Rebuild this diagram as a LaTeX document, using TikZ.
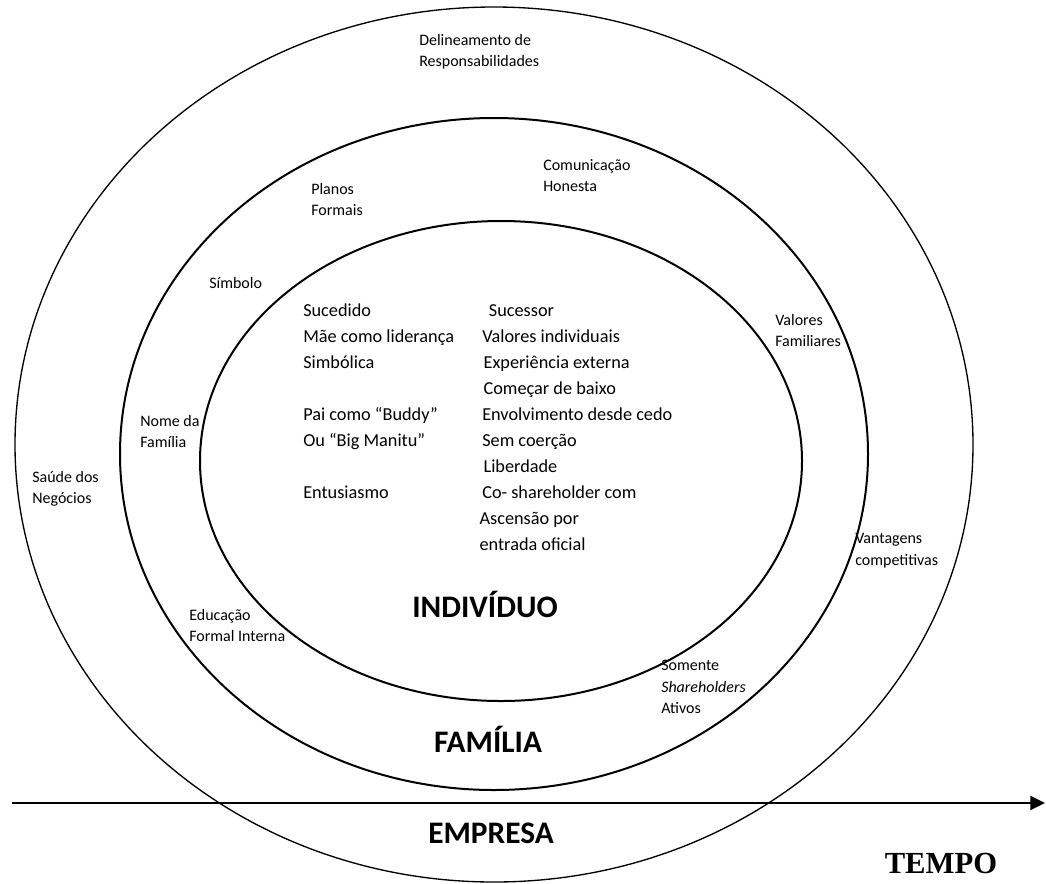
\documentclass[tikz,border=0pt]{standalone}
\usepackage{fontspec}
\setmainfont{Carlito}
\newfontfamily\tempofont{Liberation Serif}
\usetikzlibrary{arrows.meta}
\tikzset{
  ringLine/.style={draw=black, line width=1.5pt},
  outerRing/.style={draw=black, line width=1pt},
  smallLabel/.style={
    anchor=north west,
    align=left,
    inner sep=0pt,
    font=\fontsize{12}{16.2}\selectfont
  },
  innerLabel/.style={
    anchor=north west,
    align=left,
    inner sep=0pt,
    font=\fontsize{13.7}{19.5}\selectfont
  },
  ringTitle/.style={
    anchor=base,
    inner sep=0pt,
    font=\bfseries\fontsize{23.5}{28}\selectfont
  },
  tempoArrow/.style={line width=1.6pt, -{Triangle[length=11pt, width=10.5pt]}},
  tempoLabel/.style={
    anchor=base,
    inner sep=0pt,
    font=\tempofont\bfseries\fontsize{23}{28}\selectfont
  }
}

\begin{document}
\begin{tikzpicture}[x=0.75pt,y=-0.75pt]
  \useasboundingbox (0,0) rectangle (1046,883);

  % the three rings
  \draw[outerRing] (494,444.5) ellipse [x radius=359.25pt, y radius=328.125pt];
  \draw[ringLine] (494,454) ellipse [x radius=280.5pt, y radius=252pt];
  \draw[ringLine] (501,461) ellipse [x radius=225.75pt, y radius=180pt];

  % time axis
  \coordinate (tempoStart) at (12,803);
  \coordinate (tempoEnd) at (1045,803);
  \draw[tempoArrow] (tempoStart) -- (tempoEnd);

  % empresa ring
  \node[smallLabel] (delineamento) at (419,34) {Delineamento de\\Responsabilidades};
  \node[smallLabel] (saude) at (32,471) {Saúde dos\\Negócios};
  \node[smallLabel] (vantagens) at (855,533) {Vantagens\\competitivas};

  % familia ring
  \node[smallLabel] (comunicacao) at (543,159) {Comunicação\\Honesta};
  \node[smallLabel] (planos) at (311,183) {Planos\\Formais};
  \node[smallLabel] (simbolo) at (209,277) {Símbolo};
  \node[smallLabel] (valores) at (775,314) {Valores\\Familiares};
  \node[smallLabel] (nome) at (140,415) {Nome da\\Família};
  \node[smallLabel] (educacao) at (189,609) {Educação\\Formal Interna};
  \node[smallLabel] (somente) at (661,660) {Somente\\\textit{Shareholders}\\Ativos};

  % individuo ring
  \node[innerLabel] (sucedido) at (303,304) {Sucedido\\Mãe como liderança\\Simbólica};
  \node[innerLabel] (pai) at (303,407) {Pai como “Buddy”\\Ou “Big Manitu”};
  \node[innerLabel] (entusiasmo) at (303,486) {Entusiasmo};
  \node[innerLabel] (sucessor) at (482,304)
    {\hspace*{5pt}Sucessor\\Valores individuais\\\hspace*{1pt}Experiência externa\\
     \hspace*{1pt}Começar de baixo\\Envolvimento desde cedo\\Sem coerção\\
     \hspace*{1pt}Liberdade\\Co- shareholder com\\\hspace*{-2pt}Ascensão por\\
     \hspace*{-2pt}entrada oficial};

  \node[ringTitle] (individuo) at (485,617) {INDIVÍDUO};
  \node[ringTitle] (familia) at (488,752) {FAMÍLIA};
  \node[ringTitle] (empresa) at (491,843) {EMPRESA};
  \node[tempoLabel] (tempo) at (941,873) {TEMPO};
\end{tikzpicture}
\end{document}
